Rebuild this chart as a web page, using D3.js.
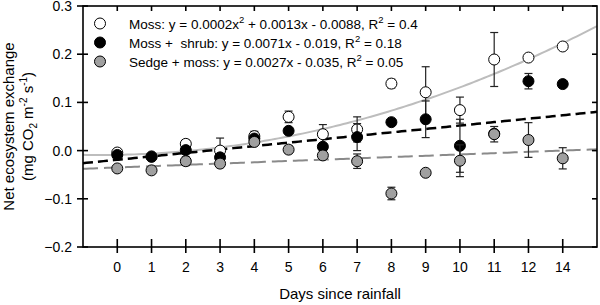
<!DOCTYPE html>
<html>
<head>
<meta charset="utf-8">
<script src="https://cdn.jsdelivr.net/npm/d3@7"></script>
<style>
  html, body { margin: 0; padding: 0; background: #fff; }
  svg { display: block; font-family: "Liberation Sans", Arial, sans-serif; }
</style>
</head>
<body>
<div id="chart"></div>
<script>
// categories (evenly spaced, 13 is skipped)
const days = ["0", "1", "2", "3", "4", "5", "6", "7", "8", "9", "10", "11", "12", "14"];

// Moss
const mossMean = [-0.004, -0.012, 0.014, 0.000, 0.030, 0.070, 0.034, 0.044, 0.139, 0.121, 0.084, 0.189, 0.193, 0.216];
const mossErr  = [0.007, 0.004, 0.008, 0.026, 0.010, 0.012, 0.020, 0.026, 0.009, 0.053, 0.027, 0.056, 0, 0];
// Moss + shrub
const shrubMean = [-0.009, -0.013, 0.001, -0.014, 0.025, 0.041, 0.008, 0.028, 0.059, 0.065, 0.010, 0.035, 0.144, 0.138];
const shrubErr  = [0.004, 0.004, 0.005, 0.005, 0.005, 0.005, 0.005, 0.028, 0, 0.038, 0.055, 0.005, 0.016, 0];
// Sedge + moss
const sedgeMean = [-0.037, -0.041, -0.022, -0.027, 0.018, 0.002, -0.010, -0.022, -0.089, -0.046, -0.021, 0.034, 0.022, -0.016];
const sedgeErr  = [0.004, 0.004, 0.009, 0.008, 0.005, 0.008, 0.004, 0.015, 0.013, 0, 0.033, 0.016, 0.036, 0.022];

// fitted curves as drawn (a*i^2 + b*i + c, i = category position)
const mossFit  = [0.00127, 0.0013, -0.0088];
const shrubFit = [0, 0.0071, -0.019];
const sedgeFit = [0, 0.0027, -0.035];

const yTicks = [-0.2, -0.1, 0.0, 0.1, 0.2, 0.3];

const W = 600, H = 305;
const margin = { top: 6, right: 3, bottom: 58, left: 83 };

const svg = d3.select("#chart").append("svg")
  .attr("width", W)
  .attr("height", H);

const x = d3.scaleLinear()
  .domain([-1, days.length])
  .range([margin.left, W - margin.right]);

const y = d3.scaleLinear()
  .domain([-0.2, 0.3])
  .range([H - margin.bottom, margin.top]);

const x0 = x.range()[0], x1 = x.range()[1];
const y0 = y.range()[0], y1 = y.range()[1];

// fit lines
const fitLine = d3.line().x(d => x(d[0])).y(d => y(d[1]));
const samples = d3.range(-1, days.length + 0.001, 0.1);
const fitPts = f => samples.map(i => [i, f[0] * i * i + f[1] * i + f[2]]);

svg.append("path")
  .attr("d", fitLine(fitPts(mossFit)))
  .attr("fill", "none")
  .attr("stroke", "#bdbdbd")
  .attr("stroke-width", 2);

svg.append("path")
  .attr("d", fitLine(fitPts(sedgeFit)))
  .attr("fill", "none")
  .attr("stroke", "#8a8a8a")
  .attr("stroke-width", 2)
  .attr("stroke-dasharray", "15,6");

svg.append("path")
  .attr("d", fitLine(fitPts(shrubFit)))
  .attr("fill", "none")
  .attr("stroke", "#000")
  .attr("stroke-width", 2.5)
  .attr("stroke-dasharray", "10,5");

// series
const series = [
  { name: "Moss", mean: mossMean, err: mossErr, fill: "#fff" },
  { name: "Moss + shrub", mean: shrubMean, err: shrubErr, fill: "#000" },
  { name: "Sedge + moss", mean: sedgeMean, err: sedgeErr, fill: "#a0a0a0" }
];

const r = 5.5, cap = 4;

series.forEach(s => {
  const g = svg.append("g");
  const pts = s.mean.map((m, i) => ({ i, m, e: s.err[i] }));

  const eb = g.selectAll(".eb")
    .data(pts.filter(d => d.e > 0))
    .enter().append("g")
    .attr("stroke", "#222")
    .attr("stroke-width", 1.2);
  eb.append("line")
    .attr("x1", d => x(d.i)).attr("x2", d => x(d.i))
    .attr("y1", d => y(d.m - d.e)).attr("y2", d => y(d.m + d.e));
  eb.append("line")
    .attr("x1", d => x(d.i) - cap).attr("x2", d => x(d.i) + cap)
    .attr("y1", d => y(d.m + d.e)).attr("y2", d => y(d.m + d.e));
  eb.append("line")
    .attr("x1", d => x(d.i) - cap).attr("x2", d => x(d.i) + cap)
    .attr("y1", d => y(d.m - d.e)).attr("y2", d => y(d.m - d.e));

  g.selectAll("circle")
    .data(pts)
    .enter().append("circle")
    .attr("cx", d => x(d.i))
    .attr("cy", d => y(d.m))
    .attr("r", r)
    .attr("fill", s.fill)
    .attr("stroke", "#000")
    .attr("stroke-width", 1);
});

// frame and ticks
const axisG = svg.append("g").attr("stroke", "#000").attr("stroke-width", 1.6);
axisG.append("rect")
  .attr("x", x0).attr("y", y1)
  .attr("width", x1 - x0).attr("height", y0 - y1)
  .attr("fill", "none");

days.forEach((d, i) => {
  axisG.append("line")
    .attr("x1", x(i)).attr("x2", x(i))
    .attr("y1", y0 - 8).attr("y2", y0 + 6);
  axisG.append("line")
    .attr("x1", x(i)).attr("x2", x(i))
    .attr("y1", y1).attr("y2", y1 + 5);
});
yTicks.forEach(t => {
  axisG.append("line")
    .attr("x1", x0 - 6).attr("x2", x0 + 5)
    .attr("y1", y(t)).attr("y2", y(t));
  axisG.append("line")
    .attr("x1", x1 - 5).attr("x2", x1)
    .attr("y1", y(t)).attr("y2", y(t));
});

svg.selectAll(".xl")
  .data(days)
  .enter().append("text")
  .attr("x", (d, i) => x(i))
  .attr("y", y0 + 25)
  .attr("text-anchor", "middle")
  .style("font-size", "14px")
  .text(d => d);

svg.selectAll(".yl")
  .data(yTicks)
  .enter().append("text")
  .attr("x", x0 - 11)
  .attr("y", d => y(d) + 5)
  .attr("text-anchor", "end")
  .style("font-size", "14px")
  .text(d => d3.format(".1f")(d));

// axis titles
svg.append("text")
  .attr("x", (x0 + x1) / 2)
  .attr("y", 299)
  .attr("text-anchor", "middle")
  .style("font-size", "15px")
  .text("Days since rainfall");

const yt = svg.append("text")
  .attr("transform", `translate(14,${(y0 + y1) / 2}) rotate(-90)`)
  .attr("text-anchor", "middle")
  .style("font-size", "15px");
yt.append("tspan").attr("x", 0).attr("y", 0).text("Net ecosystem exchange");
const l2 = yt.append("tspan").attr("x", 0).attr("y", 19);
l2.append("tspan").text("(mg CO");
l2.append("tspan").attr("dy", 4).style("font-size", "10px").text("2");
l2.append("tspan").attr("dy", -4).text(" m");
l2.append("tspan").attr("dy", -6).style("font-size", "10px").text("-2");
l2.append("tspan").attr("dy", 6).text(" s");
l2.append("tspan").attr("dy", -6).style("font-size", "10px").text("-1");
l2.append("tspan").attr("dy", 6).text(")");

// legend
const legendRows = [
  { fill: "#fff", parts: [["Moss: y = 0.0002x"], ["2", "sup"], [" + 0.0013x - 0.0088, R"], ["2", "sup"], [" = 0.4"]] },
  { fill: "#000", parts: [["Moss +  shrub: y = 0.0071x - 0.019, R"], ["2", "sup"], [" = 0.18"]] },
  { fill: "#a0a0a0", parts: [["Sedge + moss: y = 0.0027x - 0.035, R"], ["2", "sup"], [" = 0.05"]] }
];

legendRows.forEach((row, k) => {
  const ly = 23.5 + k * 19;
  svg.append("circle")
    .attr("cx", 100).attr("cy", ly).attr("r", r)
    .attr("fill", row.fill).attr("stroke", "#000").attr("stroke-width", 1);
  const t = svg.append("text")
    .attr("x", 129).attr("y", ly + 5)
    .style("font-size", "13.5px")
    .style("white-space", "pre");
  row.parts.forEach(p => {
    if (p[1] === "sup") {
      t.append("tspan").attr("dy", -6).style("font-size", "9.5px").text(p[0]);
    } else {
      const sp = t.append("tspan").text(p[0]);
      if (t.node().childNodes.length > 1) sp.attr("dy", 6);
    }
  });
});
</script>
</body>
</html>
